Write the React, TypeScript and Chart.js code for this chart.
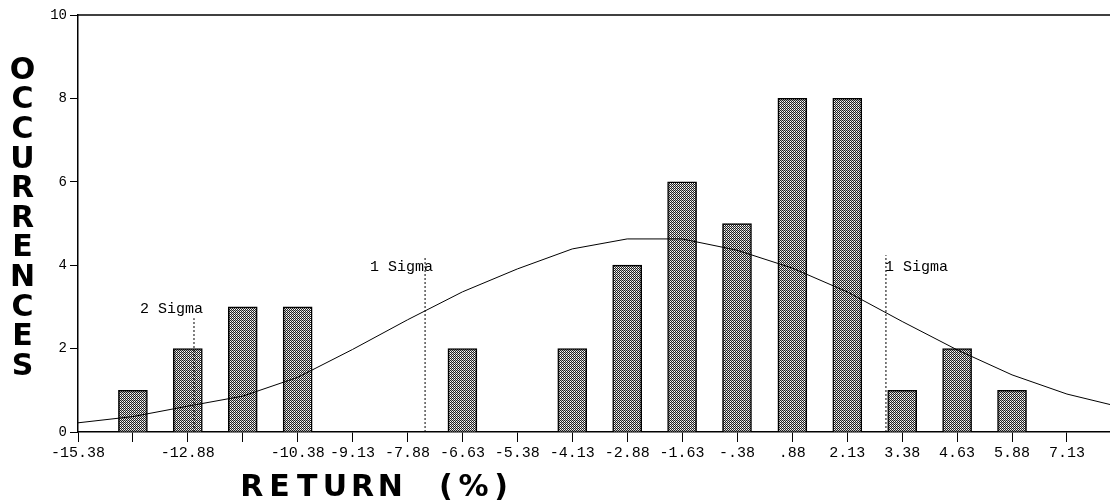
import { useEffect, useRef } from "react";
import { Chart, registerables } from "chart.js";

Chart.register(...registerables);

// ---- data ----
const binCenters = [-14.13, -12.88, -11.63, -10.38, -9.13, -7.88, -6.63, -5.38, -4.13, -2.88, -1.63, -0.38, 0.88, 2.13, 3.38, 4.63, 5.88];
const occurrences = [1, 2, 3, 3, 0, 0, 2, 0, 2, 4, 6, 5, 8, 8, 1, 2, 1];

const curveX = [-15.38, -14.13, -12.88, -11.63, -10.38, -9.13, -7.88, -6.63, -5.38, -4.13, -2.88, -1.63, -0.38, 0.88, 2.13, 3.38, 4.63, 5.88, 7.13, 8.38];
const curveY = [0.22, 0.37, 0.62, 0.86, 1.31, 1.98, 2.69, 3.36, 3.91, 4.39, 4.63, 4.63, 4.36, 3.93, 3.36, 2.65, 1.97, 1.37, 0.91, 0.59];

const xTickValues = [-15.38, -14.13, -12.88, -11.63, -10.38, -9.13, -7.88, -6.63, -5.38, -4.13, -2.88, -1.63, -0.38, 0.88, 2.13, 3.38, 4.63, 5.88, 7.13];
const xTickLabels = ["-15.38", "", "-12.88", "", "-10.38", "-9.13", "-7.88", "-6.63", "-5.38", "-4.13", "-2.88", "-1.63", "-.38", ".88", "2.13", "3.38", "4.63", "5.88", "7.13"];
const yTickValues = [0, 2, 4, 6, 8, 10];

const sigmaX = [-12.74, -7.48, 3.01];
const sigmaTop = [2.73, 4.22, 4.24];
const sigmaLabels = ["2 Sigma", "1 Sigma", "1 Sigma"];

const xMin = -15.38;
const xMax = 8.11;

const yTitle = "OCCURRENCES";
const xTitle = "RETURN (%)";

// ---- styles / placement (not data) ----
const sigmaLabelStyle = [
  { align: "right", dx: 9, dy: -9 },
  { align: "right", dx: 8, dy: 11 },
  { align: "left", dx: -1, dy: 12 },
];

export default function App() {
  const ref = useRef<HTMLCanvasElement>(null);

  useEffect(() => {
    const canvas = ref.current!;
    const pc = document.createElement("canvas");
    pc.width = 2;
    pc.height = 2;
    const pctx = pc.getContext("2d")!;
    pctx.fillStyle = "#fff";
    pctx.fillRect(0, 0, 2, 2);
    pctx.fillStyle = "#222";
    pctx.fillRect(0, 0, 1, 1);
    pctx.fillRect(1, 1, 1, 1);
    pctx.fillStyle = "#bbb";
    pctx.fillRect(1, 0, 1, 1);
    const pattern = canvas.getContext("2d")!.createPattern(pc, "repeat")!;

    const overlay = {
      id: "overlay",
      afterDraw(chart: any) {
        const ctx = chart.ctx as CanvasRenderingContext2D;
        const { left, right, top } = chart.chartArea;
        const xs = chart.scales.x;
        const ys = chart.scales.y;
        ctx.save();
        // top frame line
        ctx.strokeStyle = "#000";
        ctx.lineWidth = 1.5;
        ctx.beginPath();
        ctx.moveTo(left, top);
        ctx.lineTo(right, top);
        ctx.stroke();
        // sigma labels
        ctx.fillStyle = "#000";
        ctx.font = '15px "Liberation Mono"';
        ctx.textBaseline = "middle";
        sigmaX.forEach((v, i) => {
          const px = xs.getPixelForValue(v);
          const py = ys.getPixelForValue(sigmaTop[i]);
          const st = sigmaLabelStyle[i];
          ctx.textAlign = st.align as CanvasTextAlign;
          ctx.fillText(sigmaLabels[i], px + st.dx, py + st.dy);
        });
        // axis titles
        ctx.font = 'bold 30px "DejaVu Sans"';
        ctx.textAlign = "center";
        ctx.textBaseline = "middle";
        yTitle.split("").forEach((ch, i) => {
          ctx.fillText(ch, 22.5, 71 + i * 29.6);
        });
        xTitle.split("").forEach((ch, i) => {
          ctx.fillText(ch, 238 + 13.85 + i * 27.7, 488);
        });
        ctx.restore();
      },
    };

    const sigmaDatasets = sigmaX.map((v, i) => ({
      type: "line" as const,
      data: [
        { x: v, y: 0 },
        { x: v, y: sigmaTop[i] },
      ],
      borderColor: "#000",
      borderWidth: 1,
      borderDash: [2, 2],
      pointRadius: 0,
      order: 0,
    }));

    const chart = new Chart(canvas, {
      type: "bar",
      data: {
        datasets: [
          {
            type: "line",
            data: curveX.map((x, i) => ({ x, y: curveY[i] })),
            borderColor: "#000",
            borderWidth: 1,
            pointRadius: 0,
            tension: 0,
            order: 0,
          } as any,
          ...sigmaDatasets,
          {
            type: "bar",
            data: binCenters.map((x, i) => ({ x, y: occurrences[i] })),
            backgroundColor: pattern,
            borderColor: "#000",
            borderWidth: 1.5,
            barThickness: 29,
            order: 1,
          } as any,
        ],
      },
      options: {
        responsive: false,
        animation: false,
        layout: { padding: { top: 15, left: 0, right: 0, bottom: 0 } },
        plugins: {
          legend: { display: false },
          tooltip: { enabled: false },
          title: { display: false },
        },
        scales: {
          x: {
            type: "linear",
            min: xMin,
            max: xMax,
            offset: false,
            afterBuildTicks: (s: any) => {
              s.ticks = xTickValues.map((v) => ({ value: v }));
            },
            afterFit: (s: any) => {
              s.height = 68;
              s.paddingLeft = 0;
              s.paddingRight = 0;
            },
            ticks: {
              autoSkip: false,
              maxRotation: 0,
              minRotation: 0,
              color: "#000",
              padding: 2,
              font: { family: "Liberation Mono", size: 15 },
              callback: (_v: any, i: number) => xTickLabels[i],
            },
            grid: {
              offset: false,
              drawOnChartArea: false,
              drawTicks: true,
              tickLength: 10,
              color: "#000",
              lineWidth: 1,
            },
            border: { display: true, color: "#000", width: 1.5 },
          },
          y: {
            min: 0,
            max: 10,
            afterBuildTicks: (s: any) => {
              s.ticks = yTickValues.map((v) => ({ value: v }));
            },
            afterFit: (s: any) => {
              s.width = 78;
              s.paddingTop = 0;
              s.paddingBottom = 0;
            },
            ticks: {
              color: "#000",
              padding: 3,
              font: { family: "Liberation Mono", size: 14 },
            },
            grid: {
              drawOnChartArea: false,
              drawTicks: true,
              tickLength: 8,
              color: "#000",
              lineWidth: 1,
            },
            border: { display: true, color: "#000", width: 1.5 },
          },
        },
      },
      plugins: [overlay],
    });

    return () => chart.destroy();
  }, []);

  return (
    <div style={{ position: "fixed", left: 0, top: 0, width: 1110, height: 500, background: "#fff" }}>
      <canvas ref={ref} width={1110} height={500} style={{ width: 1110, height: 500, display: "block" }} />
    </div>
  );
}
